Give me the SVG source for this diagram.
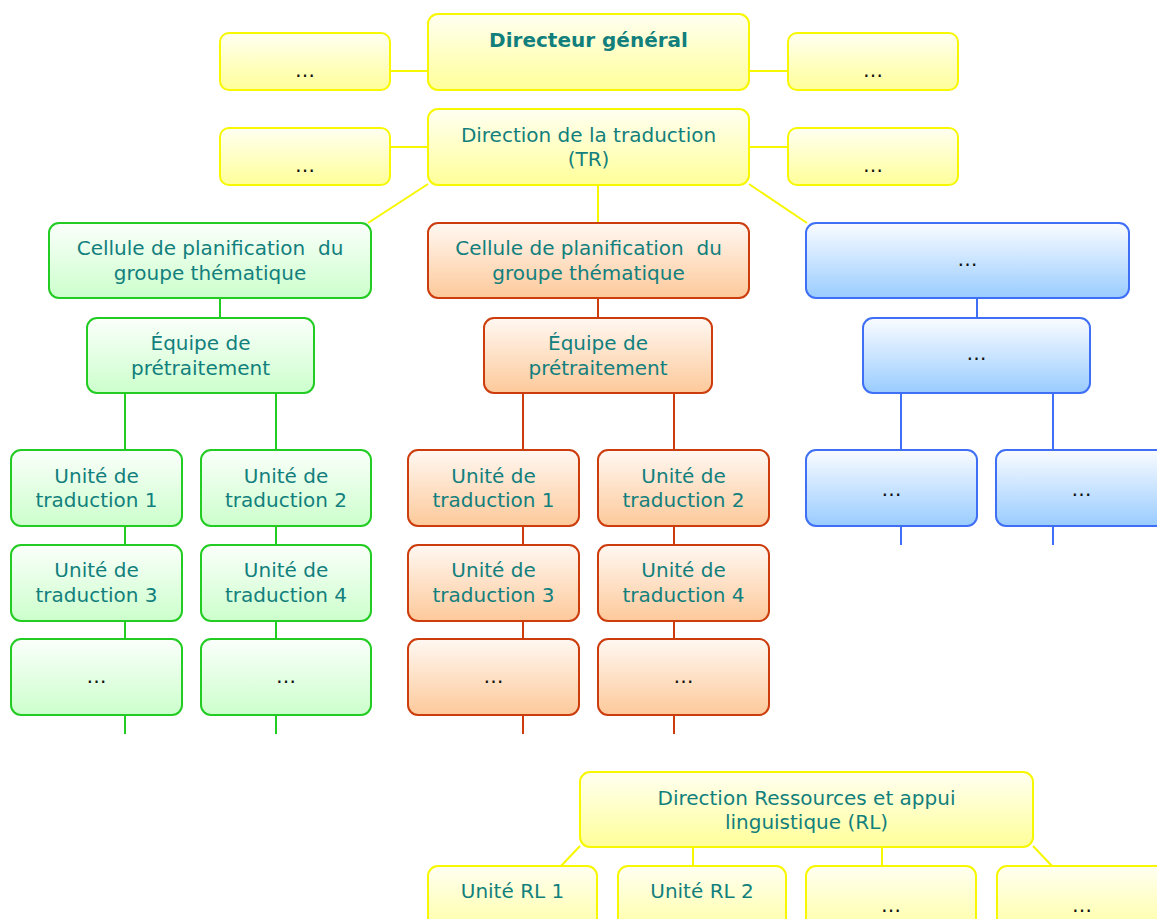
<svg xmlns="http://www.w3.org/2000/svg" width="1157" height="919" viewBox="0 0 1157 919">
<defs>
<linearGradient id="gy" x1="0" y1="0" x2="0" y2="1"><stop offset="0" stop-color="#fffff2"/><stop offset="1" stop-color="#ffff99"/></linearGradient>
<linearGradient id="gg" x1="0" y1="0" x2="0" y2="1"><stop offset="0" stop-color="#fbfffb"/><stop offset="1" stop-color="#ccffcc"/></linearGradient>
<linearGradient id="go" x1="0" y1="0" x2="0" y2="1"><stop offset="0" stop-color="#fff8f2"/><stop offset="1" stop-color="#fdc99a"/></linearGradient>
<linearGradient id="gb" x1="0" y1="0" x2="0" y2="1"><stop offset="0" stop-color="#fafcff"/><stop offset="1" stop-color="#99ccff"/></linearGradient>
</defs>
<style>
rect{stroke-width:2}
.y{fill:url(#gy);stroke:#f7f700}
.g{fill:url(#gg);stroke:#22cc22}
.o{fill:url(#go);stroke:#cc3c0c}
.b{fill:url(#gb);stroke:#3f6ff5}
text{font-family:"DejaVu Sans",Verdana,sans-serif;font-size:20px;fill:#127f7d;text-anchor:middle;white-space:pre}
.bold{font-weight:bold}
.e{fill:#111}
.cy line{stroke:#f7f700;stroke-width:2}
.cg line{stroke:#22cc22;stroke-width:2}
.co line{stroke:#cc3c0c;stroke-width:2}
.cb line{stroke:#3f6ff5;stroke-width:2}
</style>
<g id="connectors">
<g class="cy">
<line x1="390" y1="71" x2="428" y2="71"/><line x1="749" y1="71" x2="788" y2="71"/>
<line x1="390" y1="147" x2="428" y2="147"/><line x1="749" y1="147" x2="788" y2="147"/>
<line x1="428" y1="184" x2="368" y2="223"/><line x1="598" y1="185" x2="598" y2="223"/><line x1="749" y1="184" x2="807" y2="223"/>
<line x1="580" y1="846" x2="561" y2="866"/><line x1="693" y1="847" x2="693" y2="866"/><line x1="882" y1="847" x2="882" y2="866"/><line x1="1033" y1="846" x2="1052" y2="866"/>
</g>
<g class="cg">
<line x1="220" y1="298" x2="220" y2="318"/>
<line x1="125" y1="393" x2="125" y2="450"/><line x1="125" y1="526" x2="125" y2="545"/><line x1="125" y1="621" x2="125" y2="639"/><line x1="125" y1="715" x2="125" y2="734"/>
<line x1="276" y1="393" x2="276" y2="450"/><line x1="276" y1="526" x2="276" y2="545"/><line x1="276" y1="621" x2="276" y2="639"/><line x1="276" y1="715" x2="276" y2="734"/>
</g>
<g class="co">
<line x1="598" y1="298" x2="598" y2="318"/>
<line x1="523" y1="393" x2="523" y2="450"/><line x1="523" y1="526" x2="523" y2="545"/><line x1="523" y1="621" x2="523" y2="639"/><line x1="523" y1="715" x2="523" y2="734"/>
<line x1="674" y1="393" x2="674" y2="450"/><line x1="674" y1="526" x2="674" y2="545"/><line x1="674" y1="621" x2="674" y2="639"/><line x1="674" y1="715" x2="674" y2="734"/>
</g>
<g class="cb">
<line x1="977" y1="298" x2="977" y2="318"/>
<line x1="901" y1="393" x2="901" y2="450"/><line x1="901" y1="526" x2="901" y2="545"/>
<line x1="1053" y1="393" x2="1053" y2="450"/><line x1="1053" y1="526" x2="1053" y2="545"/>
</g>
</g>

<g id="dg"><rect class="y" x="428" y="14" width="321" height="76" rx="10"/><text class="bold" x="588.5" y="47">Directeur général</text></g>
<g id="dg-left"><rect class="y" x="220" y="33" width="170" height="57" rx="9"/><text class="e" x="305" y="77">…</text></g>
<g id="dg-right"><rect class="y" x="788" y="33" width="170" height="57" rx="9"/><text class="e" x="873" y="77">…</text></g>
<g id="tr"><rect class="y" x="428" y="109" width="321" height="76" rx="10"/><text x="588.5" y="142">Direction de la traduction</text><text x="588.5" y="166">(TR)</text></g>
<g id="tr-left"><rect class="y" x="220" y="128" width="170" height="57" rx="9"/><text class="e" x="305" y="172">…</text></g>
<g id="tr-right"><rect class="y" x="788" y="128" width="170" height="57" rx="9"/><text class="e" x="873" y="172">…</text></g>

<g id="g-cell"><rect class="g" x="49" y="223" width="322" height="75" rx="10"/><text x="210" y="255">Cellule de planification  du</text><text x="210" y="280">groupe thématique</text></g>
<g id="g-eq"><rect class="g" x="87" y="318" width="227" height="75" rx="10"/><text x="200.5" y="350">Équipe de</text><text x="200.5" y="375">prétraitement</text></g>
<g id="g-u1"><rect class="g" x="11" y="450" width="171" height="76" rx="10"/><text x="96.5" y="483">Unité de</text><text x="96.5" y="507">traduction 1</text></g>
<g id="g-u2"><rect class="g" x="201" y="450" width="170" height="76" rx="10"/><text x="286" y="483">Unité de</text><text x="286" y="507">traduction 2</text></g>
<g id="g-u3"><rect class="g" x="11" y="545" width="171" height="76" rx="10"/><text x="96.5" y="577">Unité de</text><text x="96.5" y="602">traduction 3</text></g>
<g id="g-u4"><rect class="g" x="201" y="545" width="170" height="76" rx="10"/><text x="286" y="577">Unité de</text><text x="286" y="602">traduction 4</text></g>
<g id="g-u5"><rect class="g" x="11" y="639" width="171" height="76" rx="10"/><text class="e" x="96.5" y="683">…</text></g>
<g id="g-u6"><rect class="g" x="201" y="639" width="170" height="76" rx="10"/><text class="e" x="286" y="683">…</text></g>

<g id="o-cell"><rect class="o" x="428" y="223" width="321" height="75" rx="10"/><text x="588.5" y="255">Cellule de planification  du</text><text x="588.5" y="280">groupe thématique</text></g>
<g id="o-eq"><rect class="o" x="484" y="318" width="228" height="75" rx="10"/><text x="598" y="350">Équipe de</text><text x="598" y="375">prétraitement</text></g>
<g id="o-u1"><rect class="o" x="408" y="450" width="171" height="76" rx="10"/><text x="493.5" y="483">Unité de</text><text x="493.5" y="507">traduction 1</text></g>
<g id="o-u2"><rect class="o" x="598" y="450" width="171" height="76" rx="10"/><text x="683.5" y="483">Unité de</text><text x="683.5" y="507">traduction 2</text></g>
<g id="o-u3"><rect class="o" x="408" y="545" width="171" height="76" rx="10"/><text x="493.5" y="577">Unité de</text><text x="493.5" y="602">traduction 3</text></g>
<g id="o-u4"><rect class="o" x="598" y="545" width="171" height="76" rx="10"/><text x="683.5" y="577">Unité de</text><text x="683.5" y="602">traduction 4</text></g>
<g id="o-u5"><rect class="o" x="408" y="639" width="171" height="76" rx="10"/><text class="e" x="493.5" y="683">…</text></g>
<g id="o-u6"><rect class="o" x="598" y="639" width="171" height="76" rx="10"/><text class="e" x="683.5" y="683">…</text></g>

<g id="b-top"><rect class="b" x="806" y="223" width="323" height="75" rx="10"/><text class="e" x="967.5" y="266">…</text></g>
<g id="b-2"><rect class="b" x="863" y="318" width="227" height="75" rx="10"/><text class="e" x="976.5" y="360">…</text></g>
<g id="b-u1"><rect class="b" x="806" y="450" width="171" height="76" rx="10"/><text class="e" x="891.5" y="496">…</text></g>
<g id="b-u2"><rect class="b" x="996" y="450" width="171" height="76" rx="10"/><text class="e" x="1081.5" y="496">…</text></g>

<g id="rl"><rect class="y" x="580" y="772" width="453" height="75" rx="10"/><text x="806.5" y="805">Direction Ressources et appui</text><text x="806.5" y="829">linguistique (RL)</text></g>
<g id="rl-u1"><rect class="y" x="428" y="866" width="169" height="76" rx="10"/><text x="512.5" y="898">Unité RL 1</text></g>
<g id="rl-u2"><rect class="y" x="618" y="866" width="168" height="76" rx="10"/><text x="702" y="898">Unité RL 2</text></g>
<g id="rl-u3"><rect class="y" x="806" y="866" width="170" height="76" rx="10"/><text class="e" x="891" y="912">…</text></g>
<g id="rl-u4"><rect class="y" x="997" y="866" width="170" height="76" rx="10"/><text class="e" x="1082" y="912">…</text></g>
</svg>
